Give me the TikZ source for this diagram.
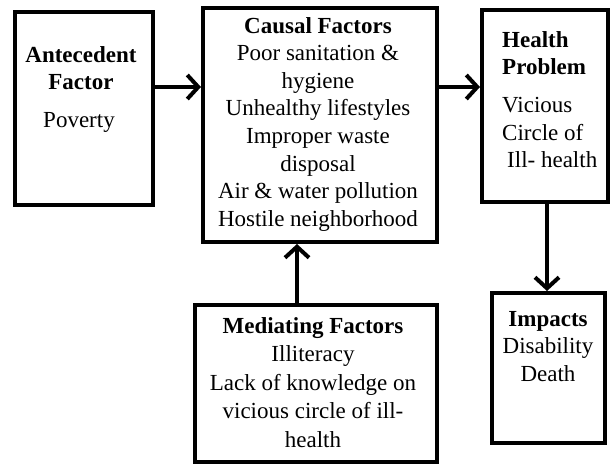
\documentclass[tikz,border=0pt]{standalone}
\usepackage{fontspec}
\setmainfont{Liberation Serif}
\usetikzlibrary{arrows.meta}
\begin{document}
\begin{tikzpicture}[x=1pt,y=-1pt,
  box/.style={draw=black, line width=4pt, fill=white, inner sep=0pt},
  txt/.style={inner sep=0pt, font=\fontsize{23}{27.6}\selectfont, align=center},
  txtl/.style={inner sep=0pt, font=\fontsize{23}{27.6}\selectfont, align=left},
  arr/.style={line width=4pt, -{Straight Barb[length=11pt,width=24pt]}}]
\useasboundingbox (0,0) rectangle (616,464);
% boxes
\node[box, minimum width=138pt, minimum height=193pt] (A) at (84,108.5) {};
\node[box, minimum width=234pt, minimum height=234pt] (C) at (320,125) {};
\node[box, minimum width=126pt, minimum height=192pt] (H) at (545,106) {};
\node[box, minimum width=113pt, minimum height=150pt] (I) at (548.5,368) {};
\node[box, minimum width=242pt, minimum height=157pt] (M) at (316,383.5) {};
% texts
\node[txt, anchor=north] (Ah) at (81,46) {\textbf{Antecedent}\\\textbf{Factor}};
\node[txt, anchor=north] (Ab) at (79,112) {Poverty};
\node[txt, anchor=north] (Ct) at (318,17) {\textbf{Causal Factors}\\Poor sanitation \&\\hygiene\\Unhealthy lifestyles\\Improper waste\\disposal\\Air \& water pollution\\Hostile neighborhood};
\node[txtl, anchor=north west] (Hh) at (502,31) {\textbf{Health}\\\textbf{Problem}};
\node[txtl, anchor=north west] (Hb) at (502,97) {Vicious\\Circle of\\\hspace*{5pt}Ill- health};
\node[txt, anchor=north] (It) at (548,311) {\textbf{Impacts}\\Disability\\Death};
\node[txt, anchor=north, font=\fontsize{23}{28.5}\selectfont] (Mt) at (313,317) {\textbf{Mediating Factors}\\Illiteracy\\Lack of knowledge on\\vicious circle of ill-\\health};
% connectors
\coordinate (row) at (0,87);
\coordinate (mx) at (297,0);
\coordinate (hx) at (547,0);
\draw[arr] (A.east |- row) -- (C.west |- row);
\draw[arr] (C.east |- row) -- (H.west |- row);
\draw[arr] (M.north -| mx) -- (C.south -| mx);
\draw[arr] (H.south -| hx) -- (I.north -| hx);
\end{tikzpicture}
\end{document}
